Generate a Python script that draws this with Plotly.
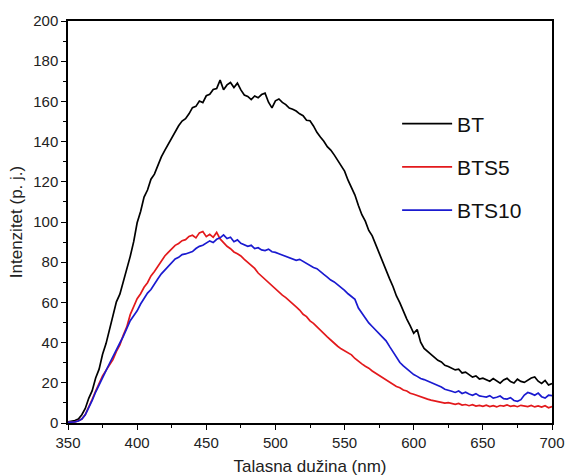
import numpy as np
import plotly.graph_objects as go

# wavelength grid (nm), 2.5 nm step, 350..700
wavelength = np.arange(350, 700.01, 2.5)

bt = [
    0.5, 0.8, 1.2, 2.0, 4.1, 7.2, 12.3, 16.1, 22.4, 26.8,
    34.2, 39.5, 46.8, 52.6, 60.3, 64.1, 70.5, 75.8, 82.9, 90.2,
    99.6, 105.2, 112.4, 115.9, 121.3, 123.8, 128.5, 132.4, 135.6, 138.7,
    141.8, 144.6, 147.9, 150.2, 151.4, 153.8, 156.9, 157.5, 160.2, 159.4,
    162.8, 163.5, 165.9, 166.4, 170.6, 165.8, 168.2, 169.4, 166.9, 169.1,
    165.7, 163.2, 162.5, 160.9, 162.7, 161.8, 163.4, 164.1, 159.6, 156.8,
    160.3, 161.2, 159.5, 158.4, 156.7, 156.1, 155.2, 153.8, 152.9, 150.6,
    150.4, 147.8, 144.6, 142.3, 140.2, 137.5, 135.8, 133.4, 130.6, 127.9,
    125.3, 120.8, 116.9, 113.4, 108.2, 103.6, 100.4, 95.8, 93.1, 88.7,
    85.2, 80.4, 76.3, 71.8, 67.9, 63.2, 59.8, 55.4, 51.7, 48.3,
    44.6, 46.5, 40.2, 37.1, 35.6, 34.3, 32.8, 31.2, 30.4, 28.7,
    28.1, 27.3, 26.4, 26.8, 24.9, 25.3, 24.2, 22.8, 23.4, 21.9,
    22.3, 21.6, 20.8, 22.1, 20.9, 19.8, 21.4, 22.2, 20.6, 19.9,
    21.8, 20.7, 20.2, 21.3, 22.4, 22.9, 20.8, 19.7, 21.2, 18.9,
    19.6,
]

bts5 = [
    0.3, 0.4, 0.6, 1.1, 2.0, 4.2, 7.6, 11.8, 15.9, 19.6,
    23.4, 26.2, 28.8, 31.5, 35.6, 38.9, 43.7, 47.8, 53.9, 57.6,
    61.8, 64.3, 67.5, 69.8, 73.2, 75.4, 77.9, 80.6, 83.1, 84.9,
    86.8, 88.4, 89.3, 90.7, 91.2, 92.8, 93.4, 92.1, 94.6, 95.3,
    92.7, 93.9, 92.4, 94.8, 91.6, 89.8, 87.9, 86.7, 85.1, 84.2,
    83.1, 81.4, 79.8, 78.2, 76.9, 74.6, 73.0, 71.4, 69.8, 68.1,
    66.8, 65.1, 63.6, 62.4, 61.0, 59.3, 57.8, 56.2, 54.1, 52.9,
    50.8, 49.6, 47.9, 46.2, 44.1, 42.8, 41.3, 39.6, 38.2, 36.9,
    35.8, 34.6, 33.9, 32.1, 30.6, 29.4, 28.2, 27.3, 25.9, 24.8,
    23.6, 22.7, 21.6, 20.4, 19.3, 18.2, 17.5, 16.4, 15.9, 14.8,
    14.3, 13.6, 13.0, 12.4, 11.9, 11.4, 11.0, 10.6, 10.4, 9.9,
    10.1, 9.6, 9.3, 9.7, 8.9, 9.2, 8.6, 9.1, 8.4, 8.8,
    8.3, 8.9, 8.2, 8.6, 8.0, 8.7, 8.4, 9.0, 8.3, 8.6,
    8.1, 8.8, 8.4, 8.2, 8.7, 8.0, 8.5, 7.9, 8.6, 7.6,
    8.2,
]

bts10 = [
    0.3, 0.4, 0.6, 1.0, 2.0, 4.1, 7.5, 11.2, 15.4, 19.2,
    22.8, 26.1, 29.6, 33.2, 36.3, 39.8, 43.1, 47.2, 50.9, 53.4,
    55.8, 59.2, 62.1, 64.6, 66.4, 69.3, 71.8, 74.2, 76.1, 78.3,
    80.2, 81.6, 82.4, 83.8, 84.1, 84.9, 85.3, 86.8, 87.9, 88.4,
    89.3, 90.6, 89.8, 91.4, 92.1, 93.6, 91.8, 92.4, 90.2, 91.1,
    89.4, 88.7, 87.9, 88.4, 86.8, 87.2, 86.1, 85.8, 86.5, 85.2,
    84.9, 84.2, 83.6, 82.8, 82.1, 81.6, 80.9, 81.4, 80.3, 79.2,
    78.1, 77.4, 76.8, 75.2, 73.9, 72.6, 71.1, 70.2, 68.9, 67.4,
    66.0, 64.3, 62.8, 61.5, 57.2, 54.6, 52.1, 49.8, 48.0, 46.1,
    44.2, 42.8, 40.9, 38.1, 35.4, 32.9, 30.1, 28.4, 27.0, 25.6,
    24.1, 23.2, 22.1, 21.6, 20.9, 20.1, 19.4, 18.6, 17.9, 16.8,
    16.1, 15.8, 15.2, 15.9, 14.7, 15.3, 14.4, 13.8, 14.6, 13.5,
    13.2, 12.9, 13.6, 12.4, 12.8, 13.4, 12.1, 11.9, 12.6, 11.2,
    10.8, 11.6, 13.9, 15.2, 14.6, 13.8, 14.9, 13.1, 12.4, 13.8,
    13.6,
]

series_names = ["BT", "BTS5", "BTS10"]
series_colors = ["#000000", "#e3191c", "#1a1ad0"]

FONT = "Liberation Sans, Arial, sans-serif"

fig = go.Figure()
for name, ys, col in zip(series_names, [bt, bts5, bts10], series_colors):
    fig.add_trace(go.Scatter(
        x=wavelength, y=ys, mode="lines", name=name,
        legendgroup=name,
        line=dict(color=col, width=1.7),
    ))

axis_common = dict(
    showgrid=False, zeroline=False, automargin=False,
    showline=True, linecolor="black", linewidth=1.5, mirror=True,
    ticks="outside", ticklen=5, tickwidth=1.2, tickcolor="black",
    tickfont=dict(family=FONT, size=15, color="#222"),
)

fig.update_xaxes(
    range=[350, 700], tick0=350, dtick=50,
    minor=dict(ticks="outside", ticklen=3, tickwidth=1.2, tickcolor="black", dtick=25),
    title=dict(text="Talasna dužina (nm)", font=dict(family=FONT, size=17, color="#222")),
    **axis_common,
)
fig.update_yaxes(
    range=[0, 200], tick0=0, dtick=20,
    minor=dict(ticks="outside", ticklen=3, tickwidth=1.2, tickcolor="black", dtick=10),
    title=dict(text="Intenzitet (p. j.)", font=dict(family=FONT, size=17, color="#222"), standoff=6),
    **axis_common,
)

fig.update_layout(
    width=570, height=476,
    margin=dict(l=68, r=18, t=21, b=53),
    plot_bgcolor="white", paper_bgcolor="white",
    font=dict(family=FONT, color="#222"),
    legend=dict(
        x=0.68, y=0.795, xanchor="left", yanchor="top",
        font=dict(family=FONT, size=21, color="#111"),
        itemwidth=50, traceorder="grouped", tracegroupgap=13,
        bgcolor="rgba(0,0,0,0)",
    ),
)

fig.write_html(
    "out.html",
    config={"displayModeBar": False},
    post_script="document.body.style.margin='0';document.body.style.padding='0';",
)
